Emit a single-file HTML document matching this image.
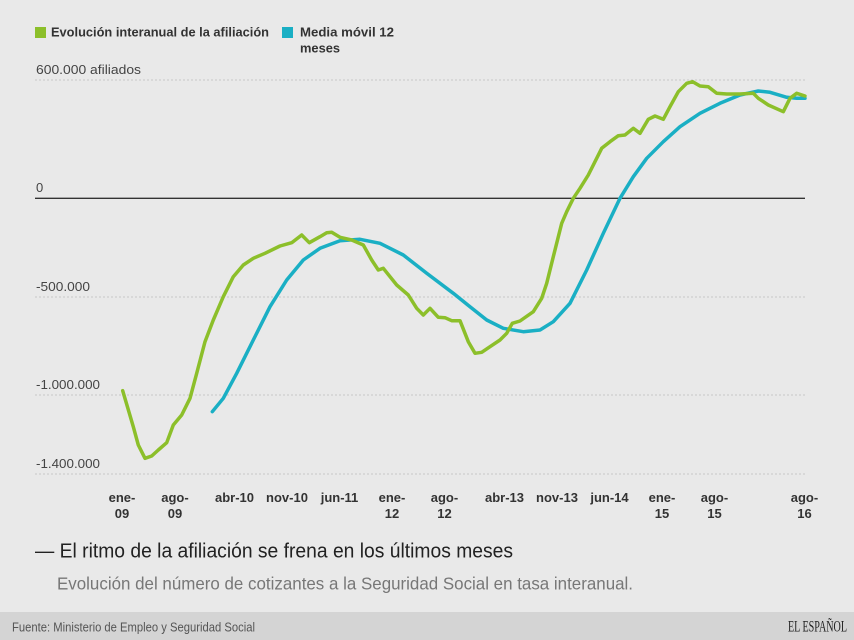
<!DOCTYPE html>
<html>
<head>
<meta charset="utf-8">
<style>
  html,body{margin:0;padding:0;background:#e9e9e9;}
  svg{display:block;}
  text{font-family:"Liberation Sans",sans-serif;}
</style>
</head>
<body>
<svg width="854" height="640" viewBox="0 0 854 640" xmlns="http://www.w3.org/2000/svg">
  <rect x="0" y="0" width="854" height="640" fill="#e9e9e9"/>

  <!-- Legend -->
  <rect x="35" y="27" width="11" height="11" fill="#8cbf2a"/>
  <text x="51" y="36.5" font-size="13" font-weight="bold" fill="#333" textLength="218" lengthAdjust="spacingAndGlyphs">Evolución interanual de la afiliación</text>
  <rect x="282" y="27" width="11" height="11" fill="#1aafc4"/>
  <text x="300" y="36.5" font-size="13" font-weight="bold" fill="#333" textLength="94" lengthAdjust="spacingAndGlyphs">Media móvil 12</text>
  <text x="300" y="52.5" font-size="13" font-weight="bold" fill="#333" textLength="40" lengthAdjust="spacingAndGlyphs">meses</text>

  <!-- Grid lines -->
  <g stroke="#c6c6c6" stroke-width="1" stroke-dasharray="2,2">
    <line x1="35" y1="80" x2="805" y2="80"/>
    <line x1="35" y1="297" x2="805" y2="297"/>
    <line x1="35" y1="395" x2="805" y2="395"/>
    <line x1="35" y1="474" x2="805" y2="474"/>
  </g>
  <line x1="35" y1="198.3" x2="805" y2="198.3" stroke="#333" stroke-width="1.3"/>

  <!-- Y labels -->
  <g font-size="13" fill="#444">
    <text x="36" y="74" textLength="105" lengthAdjust="spacingAndGlyphs">600.000 afiliados</text>
    <text x="36" y="192">0</text>
    <text x="36" y="291" textLength="54" lengthAdjust="spacingAndGlyphs">-500.000</text>
    <text x="36" y="389" textLength="64" lengthAdjust="spacingAndGlyphs">-1.000.000</text>
    <text x="36" y="468" textLength="64" lengthAdjust="spacingAndGlyphs">-1.400.000</text>
  </g>

  <!-- X labels -->
  <g font-size="13" font-weight="bold" fill="#333" text-anchor="middle">
    <text x="122" y="502">ene-</text><text x="122" y="518">09</text>
    <text x="175" y="502">ago-</text><text x="175" y="518">09</text>
    <text x="234.5" y="502">abr-10</text>
    <text x="287" y="502">nov-10</text>
    <text x="339.5" y="502">jun-11</text>
    <text x="392" y="502">ene-</text><text x="392" y="518">12</text>
    <text x="444.5" y="502">ago-</text><text x="444.5" y="518">12</text>
    <text x="504.5" y="502">abr-13</text>
    <text x="557" y="502">nov-13</text>
    <text x="609.5" y="502">jun-14</text>
    <text x="662" y="502">ene-</text><text x="662" y="518">15</text>
    <text x="714.5" y="502">ago-</text><text x="714.5" y="518">15</text>
    <text x="804.5" y="502">ago-</text><text x="804.5" y="518">16</text>
  </g>

  <!-- Teal moving average -->
  <polyline fill="none" stroke="#1aafc4" stroke-width="3.5" stroke-linejoin="round" stroke-linecap="round"
    points="212.3,411.7 223.3,398.3 236.7,373.3 253.3,340 270,306.7 286.7,280 303.3,260 320,248.3 340,240.7 360,239.3 380,243.3 403.3,255 426.7,273.3 453.3,293.3 470,306.7 486.7,320 503.3,328.3 523.3,331.7 540,330 553.3,321.7 570,303.3 586.7,270 603.3,233.3 620,198.3 633.3,176.7 646.7,158.3 663.3,141.7 680,126.7 700,113.3 720,103.3 740,95 758.3,91 770,92.3 786.7,97.3 796.7,98.3 805,98.3"/>

  <!-- Green series -->
  <polyline fill="none" stroke="#8cbf2a" stroke-width="3.5" stroke-linejoin="round" stroke-linecap="round"
    points="122.7,390.7 133.3,426.7 138.3,445 145,458.3 151.7,456 158.3,450 166.7,442.7 173.3,425 181.7,415 190,398.3 196.7,373.3 205,341.7 213.3,320 223.3,296.7 233.3,276.7 243.3,265 253.3,258.3 265,253.3 280,246 291.7,242.7 301.7,235 309.3,242.7 320,236.7 326.7,232.7 331.7,232.3 340,237.3 351.7,240 363.3,245 371.7,260 378.3,270 383.3,268.3 396.7,285 408.3,295 416.7,308.3 423.3,315 430,308.3 438.3,317.3 445,317.7 451.7,320.7 460,320.7 468.3,341.7 475,353.3 481.7,352.3 490,346.7 500,340 506.7,333.3 512.3,323.3 520,321 533.3,311.7 541.7,298.3 546.7,283.3 553.3,256.7 561.7,223.3 566.7,211.7 573.3,198.3 580,188.3 588.3,175 601.7,148.3 610,141.7 618.3,135.7 625,135 633.3,128.3 640,133.3 648.3,119.3 655,116 663.3,119.3 670,106.7 678.3,91.7 686.7,83.3 692.7,81.7 700,86 708.3,86.7 716.7,93.3 726.7,94 740,94 753.3,93.3 758.3,98.3 768.3,105 783.3,111.7 790,98.3 796.7,93.3 805,96"/>

  <!-- Title & subtitle -->
  <text x="35" y="557.3" font-size="20.5" fill="#222" textLength="478" lengthAdjust="spacingAndGlyphs">— El ritmo de la afiliación se frena en los últimos meses</text>
  <text x="57" y="589.3" font-size="17.5" fill="#777" textLength="576" lengthAdjust="spacingAndGlyphs">Evolución del número de cotizantes a la Seguridad Social en tasa interanual.</text>

  <!-- Footer -->
  <rect x="0" y="612" width="854" height="28" fill="#d4d4d4"/>
  <text x="12" y="631.7" font-size="12.5" fill="#555" textLength="243" lengthAdjust="spacingAndGlyphs">Fuente: Ministerio de Empleo y Seguridad Social</text>
  <text x="788" y="631.7" font-size="16" fill="#222" font-family="Liberation Serif, serif" style="font-family:'Liberation Serif',serif" textLength="59" lengthAdjust="spacingAndGlyphs">EL ESPAÑOL</text>
</svg>
</body>
</html>
